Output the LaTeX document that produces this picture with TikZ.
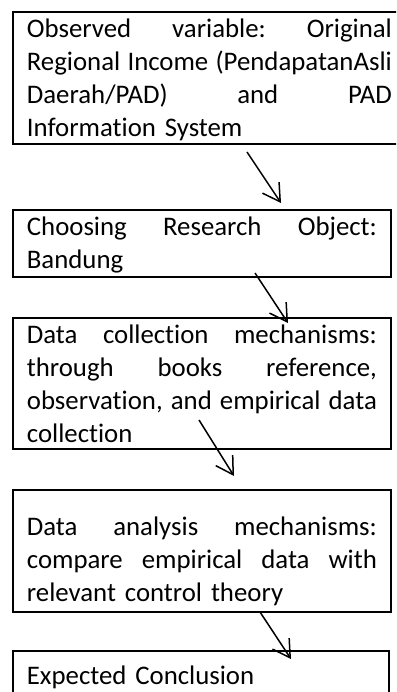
\documentclass[tikz,border=0pt]{standalone}
\usepackage{fontspec}
\setmainfont{Carlito}[Ligatures={NoCommon,NoContextual}]
\usetikzlibrary{arrows.meta}
\newcommand{\jline}[2][350pt]{\leavevmode\hbox to #1{\frenchspacing\spaceskip=.226em plus 1fil minus .04em\relax #2}}
\begin{document}
\begin{tikzpicture}[x=1pt,y=-1pt,
  box/.style={draw, line width=1.8pt, anchor=north west, inner xsep=14pt, inner ysep=0pt,
    text width=350pt, align=left, font=\fontsize{26.8}{33}\selectfont},
  flow/.style={line width=1.5pt, -{Straight Barb[length=17pt,width=20pt]}}]
\useasboundingbox (0,0) rectangle (396,692);
\clip (0,0) rectangle (396,692);
\node[box, text width=365pt, text height=26pt, text depth=106pt] (b1) at (12,11)
  {\jline[365pt]{Observed variable: Original}\\\jline[365pt]{Regional Income (PendapatanAsli}\\\jline[365pt]{Daerah/PAD) and PAD}\\Information System};
\node[box, text height=26pt, text depth=41pt] (b2) at (12,209)
  {\jline{Choosing Research Object:}\\Bandung};
\node[box, text height=26pt, text depth=105pt] (b3) at (12,317)
  {\jline{Data collection mechanisms:}\\\jline{through books reference,}\\\jline{observation, and empirical data}\\collection};
\node[box, text height=46pt, text depth=76pt] (b4) at (12,489)
  {\jline{Data analysis mechanisms:}\\\jline{compare empirical data with}\\relevant control theory};
\node[box, text width=348pt, text height=34pt, text depth=60pt] (b5) at (12,650)
  {Expected Conclusion};
\coordinate (s1) at (247,152); \coordinate (e1) at (281,203);
\coordinate (s2) at (255,273); \coordinate (e2) at (288,323);
\coordinate (s3) at (199,420); \coordinate (e3) at (234,476);
\coordinate (s4) at (260,612); \coordinate (e4) at (291,659);
\draw[flow] (s1) -- (e1);
\draw[flow] (s2) -- (e2);
\draw[flow] (s3) -- (e3);
\draw[flow] (s4) -- (e4);
\end{tikzpicture}
\end{document}
